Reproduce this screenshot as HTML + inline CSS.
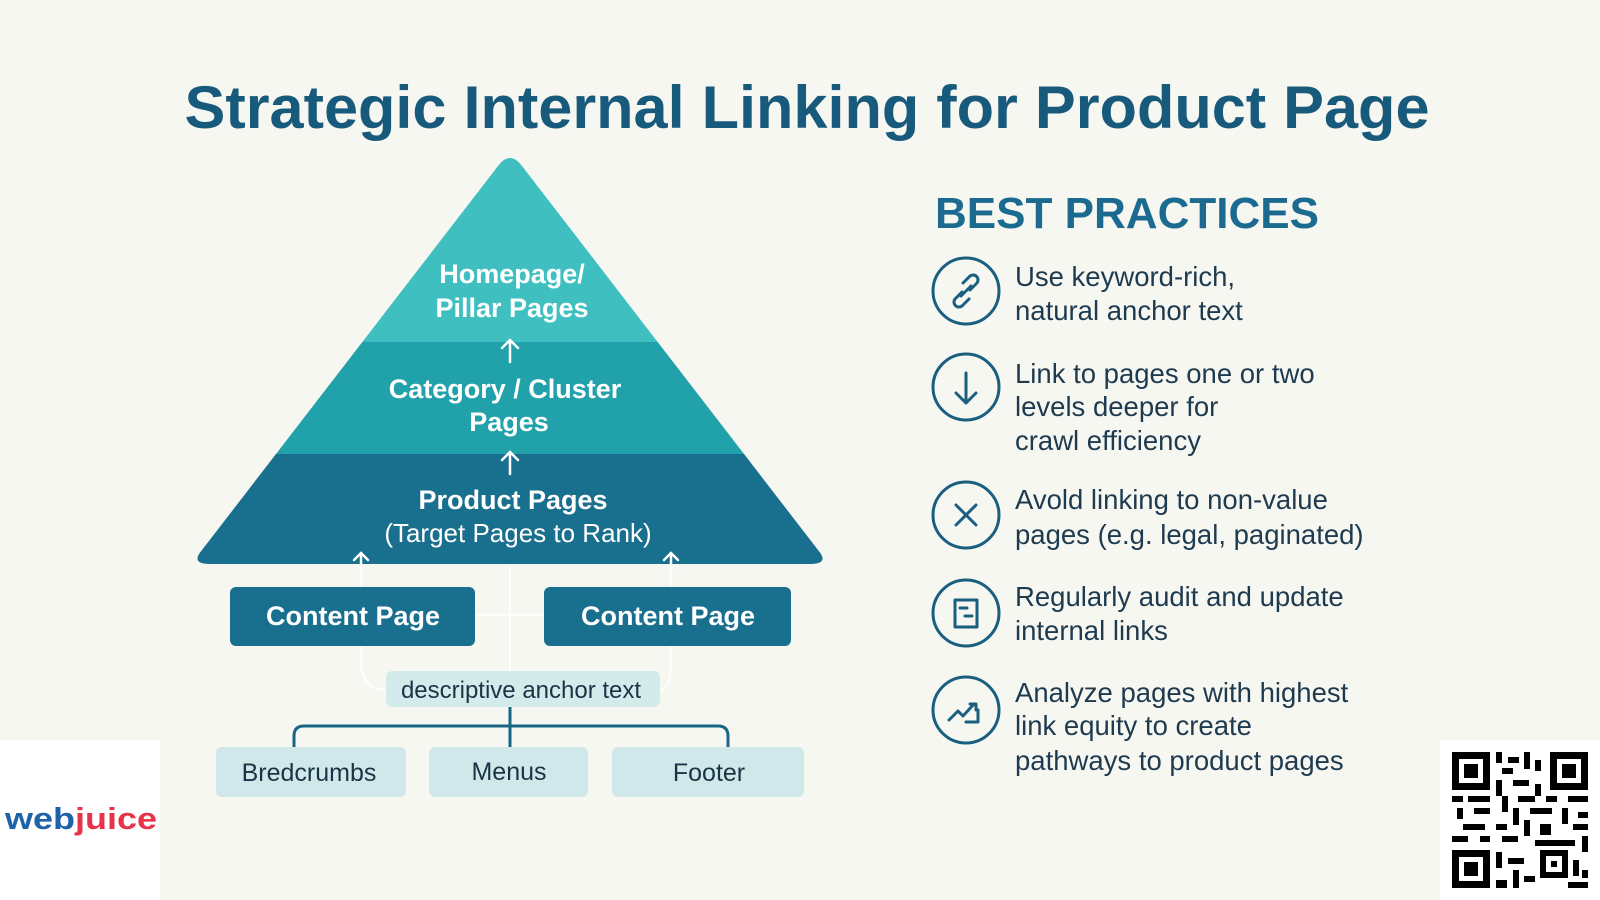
<!DOCTYPE html>
<html><head><meta charset="utf-8"><style>
html,body{margin:0;padding:0;background:#f7f7f2;}
svg{display:block;font-family:"Liberation Sans",sans-serif;}
</style></head><body>
<svg width="1600" height="900" viewBox="0 0 1600 900" xmlns="http://www.w3.org/2000/svg">
<rect width="1600" height="900" fill="#f7f7f2"/>
<text x="807" y="128" text-anchor="middle" font-size="60" font-weight="bold" fill="#185a7c" textLength="1245" lengthAdjust="spacingAndGlyphs">Strategic Internal Linking for Product Page</text>

<defs><clipPath id="pyr"><path d="M498,166 Q510,150 522,166 L818,550 Q830,564 810,564 L210,564 Q190,564 202,550 Z"/></clipPath></defs>
<g clip-path="url(#pyr)">
<rect x="180" y="140" width="660" height="203" fill="#3fbfc0"/>
<rect x="180" y="342" width="660" height="113" fill="#21a1a9"/>
<rect x="180" y="454" width="660" height="112" fill="#196f8e"/>
</g>
<g fill="#fff" font-weight="bold" font-size="27" text-anchor="middle">
<text x="512" y="283">Homepage/</text>
<text x="512" y="317">Pillar Pages</text>
<text x="505" y="398">Category / Cluster</text>
<text x="509" y="431">Pages</text>
<text x="513" y="509">Product Pages</text>
<text x="518" y="542" font-weight="normal" font-size="26">(Target Pages to Rank)</text>
</g>
<g stroke="#fff" stroke-width="2.5" fill="none" stroke-linecap="round">
<path d="M510,362 V340 M502,348 L510,340 L518,348"/>
<path d="M510,474 V452 M502,460 L510,452 L518,460"/>
<path d="M361,570 V553 M354,560 L361,553 L368,560"/>
<path d="M671,570 V553 M664,560 L671,553 L678,560"/>
</g>
<g stroke="#fff" stroke-width="2" fill="none" opacity="0.8">
<path d="M510,566 V672"/>
<path d="M475,615 H510 M545,615 H510"/>
<path d="M361,570 V660 Q361,690 386,690"/>
<path d="M671,570 V660 Q671,690 660,690"/>
</g>
<rect x="230" y="587" width="245" height="59" rx="6" fill="#196f8e"/>
<rect x="544" y="587" width="247" height="59" rx="6" fill="#196f8e"/>
<text x="353" y="625" text-anchor="middle" fill="#fff" font-size="27" font-weight="bold">Content Page</text>
<text x="668" y="625" text-anchor="middle" fill="#fff" font-size="27" font-weight="bold">Content Page</text>
<rect x="386" y="671" width="274" height="36" rx="6" fill="#d4ebec"/>
<text x="521" y="698" text-anchor="middle" fill="#1a3446" font-size="24">descriptive anchor text</text>
<g stroke="#1a6585" stroke-width="3" fill="none">
<path d="M294,748 V736 Q294,726 304,726 H718 Q728,726 728,736 V748"/>
<path d="M510,707 V748"/>
</g>
<rect x="216" y="747" width="190" height="50" rx="6" fill="#d0e8ea"/>
<rect x="429" y="747" width="159" height="50" rx="6" fill="#d0e8ea"/>
<rect x="612" y="747" width="192" height="50" rx="6" fill="#d0e8ea"/>
<g fill="#1a3446" font-size="25" text-anchor="middle">
<text x="309" y="781">Bredcrumbs</text>
<text x="509" y="780">Menus</text>
<text x="709" y="781">Footer</text>
</g>

<text x="935" y="228" font-size="44" font-weight="bold" fill="#1b6a8f" textLength="384" lengthAdjust="spacingAndGlyphs">BEST PRACTICES</text>
<g stroke="#1a5f80" stroke-width="3" fill="none" stroke-linecap="round" stroke-linejoin="round">
<circle cx="966" cy="291" r="33"/>
<circle cx="966" cy="387" r="33"/>
<circle cx="966" cy="515" r="33"/>
<circle cx="966" cy="613" r="33"/>
<circle cx="966" cy="710" r="33"/>
<path d="M962,292 l-7,7 a5,5 0 0 0 7,7 l7,-7 M970,290 l7,-7 a5,5 0 0 0 -7,-7 l-7,7 M961,296 l10,-10"/>
<path d="M966,373 V403 M956,393 L966,403 L976,393"/>
<path d="M956,505 L976,525 M976,505 L956,525"/>
<rect x="955" y="600" width="22" height="27"/>
<path d="M960,608 h7 M965,616 h7"/>
<path d="M949,720 l9,-9 l5,5 l11,-12 M970,704 h6 v6 M966,722 h12 v-12"/>
</g>
<g fill="#1e3a4f" font-size="27.5">
<text x="1015" y="286">Use keyword-rich,</text>
<text x="1015" y="320">natural anchor text</text>
<text x="1015" y="383">Link to pages one or two</text>
<text x="1015" y="416">levels deeper for</text>
<text x="1015" y="450">crawl efficiency</text>
<text x="1015" y="509">Avold linking to non-value</text>
<text x="1015" y="544">pages (e.g. legal, paginated)</text>
<text x="1015" y="606">Regularly audit and update</text>
<text x="1015" y="640">internal links</text>
<text x="1015" y="702">Analyze pages with highest</text>
<text x="1015" y="735">link equity to create</text>
<text x="1015" y="770">pathways to product pages</text>
</g>

<rect x="0" y="740" width="160" height="160" fill="#fff"/>
<text x="5" y="829" font-size="31" font-weight="bold" textLength="152" lengthAdjust="spacingAndGlyphs"><tspan fill="#1e63a8">w</tspan><tspan fill="#1e63a8">e</tspan><tspan fill="#1e63a8">b</tspan><tspan fill="#e8334a">juice</tspan></text>

<rect x="1440" y="740" width="160" height="160" fill="#fff"/>
<g fill="#000">
<path d="M1452,752h38v38h-38z M1459,759v24h24v-24z M1464,764h14v14h-14z" fill-rule="evenodd"/>
<path d="M1550,752h38v38h-38z M1557,759v24h24v-24z M1562,764h14v14h-14z" fill-rule="evenodd"/>
<path d="M1452,850h38v38h-38z M1459,857v24h24v-24z M1464,862h14v14h-14z" fill-rule="evenodd"/>
<rect x="1496" y="752" width="6" height="11"/><rect x="1508" y="757" width="11" height="6"/><rect x="1524" y="752" width="6" height="17"/><rect x="1535" y="760" width="6" height="11"/>
<rect x="1502" y="768" width="11" height="6"/><rect x="1496" y="780" width="6" height="16"/><rect x="1513" y="780" width="16" height="6"/><rect x="1535" y="784" width="6" height="12"/>
<rect x="1452" y="796" width="11" height="6"/><rect x="1468" y="796" width="22" height="6"/><rect x="1502" y="796" width="6" height="16"/><rect x="1518" y="796" width="17" height="6"/><rect x="1546" y="796" width="11" height="6"/><rect x="1568" y="796" width="20" height="6"/>
<rect x="1457" y="808" width="6" height="11"/><rect x="1474" y="808" width="16" height="6"/><rect x="1513" y="808" width="6" height="17"/><rect x="1530" y="808" width="22" height="6"/><rect x="1562" y="808" width="6" height="16"/><rect x="1578" y="812" width="10" height="6"/>
<rect x="1463" y="824" width="22" height="6"/><rect x="1496" y="824" width="11" height="6"/><rect x="1524" y="820" width="6" height="16"/><rect x="1540" y="824" width="11" height="11"/><rect x="1573" y="824" width="15" height="6"/>
<rect x="1452" y="836" width="16" height="6"/><rect x="1480" y="836" width="10" height="6"/><rect x="1502" y="836" width="16" height="6"/><rect x="1535" y="840" width="40" height="6"/><rect x="1582" y="836" width="6" height="16"/>
<path d="M1540,850h28v28h-28z M1546,856v16h16v-16z M1551,861h6v6h-6z" fill-rule="evenodd"/>
<rect x="1496" y="852" width="6" height="16"/><rect x="1508" y="858" width="16" height="6"/><rect x="1513" y="870" width="6" height="18"/><rect x="1524" y="876" width="11" height="6"/>
<rect x="1496" y="880" width="11" height="8"/><rect x="1573" y="860" width="6" height="16"/><rect x="1568" y="882" width="20" height="6"/><rect x="1582" y="870" width="6" height="8"/>
</g>
</svg>
</body></html>
